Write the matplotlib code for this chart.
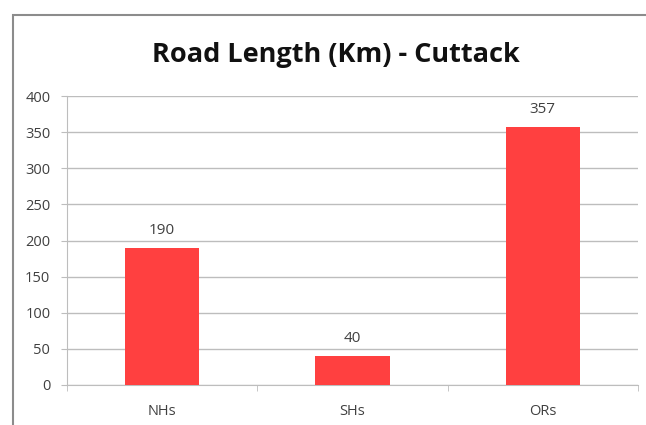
import matplotlib.pyplot as plt
from matplotlib.patches import Rectangle

categories = ['NHs', 'SHs', 'ORs']
lengths = [190, 40, 357]
yticks = [0, 50, 100, 150, 200, 250, 300, 350, 400]

bar_color = '#FF4040'
text_color = '#404040'
grid_color = '#BDBDBD'

fig = plt.figure(figsize=(6.46, 4.25), dpi=100)
fig.patch.set_facecolor('white')

# outer chart border (cut off at right and bottom like the screenshot)
fig.patches.append(Rectangle((13 / 646, -0.05), 1.0, 1 - 15 / 425 + 0.05,
                             transform=fig.transFigure, fill=False,
                             edgecolor='#8C8C8C', linewidth=1.5))

ax = fig.add_axes([67 / 646, 1 - 385 / 425, (638 - 67) / 646, (385 - 96) / 425])
x = list(range(len(categories)))
bars = ax.bar(x, lengths, width=0.39, color=bar_color, zorder=3)

for xi, v in zip(x, lengths):
    ax.annotate(str(v), xy=(xi, v), xytext=(0, 7), textcoords='offset points',
                ha='center', va='bottom', fontsize=11, color=text_color,
                family='Open Sans')

ax.set_xlim(-0.5, 2.5)
ax.set_ylim(0, 400)
ax.set_yticks(yticks)
ax.set_yticklabels([str(t) for t in yticks], family='Open Sans', fontsize=10.5,
                   color=text_color)
ax.set_xticks(x)
ax.set_xticklabels(categories, family='Open Sans', fontsize=10.5, color=text_color)
ax.set_xticks([-0.5, 0.5, 1.5, 2.5], minor=True)
ax.tick_params(axis='x', which='major', length=0, pad=14)
ax.tick_params(axis='x', which='minor', length=4, color=grid_color, direction='out')
ax.tick_params(axis='y', length=4, color=grid_color, pad=8)
ax.grid(axis='y', color=grid_color, linewidth=1, zorder=0)

for side in ['top', 'right']:
    ax.spines[side].set_visible(False)
ax.spines['left'].set_color(grid_color)
ax.spines['bottom'].set_color(grid_color)

fig.text(336 / 646, 1 - 55 / 425, 'Road Length (Km) - Cuttack', ha='center',
         va='center', fontsize=19.5, fontweight='bold', family='Open Sans',
         color='#111111')

fig.savefig('out.png', dpi=100)
